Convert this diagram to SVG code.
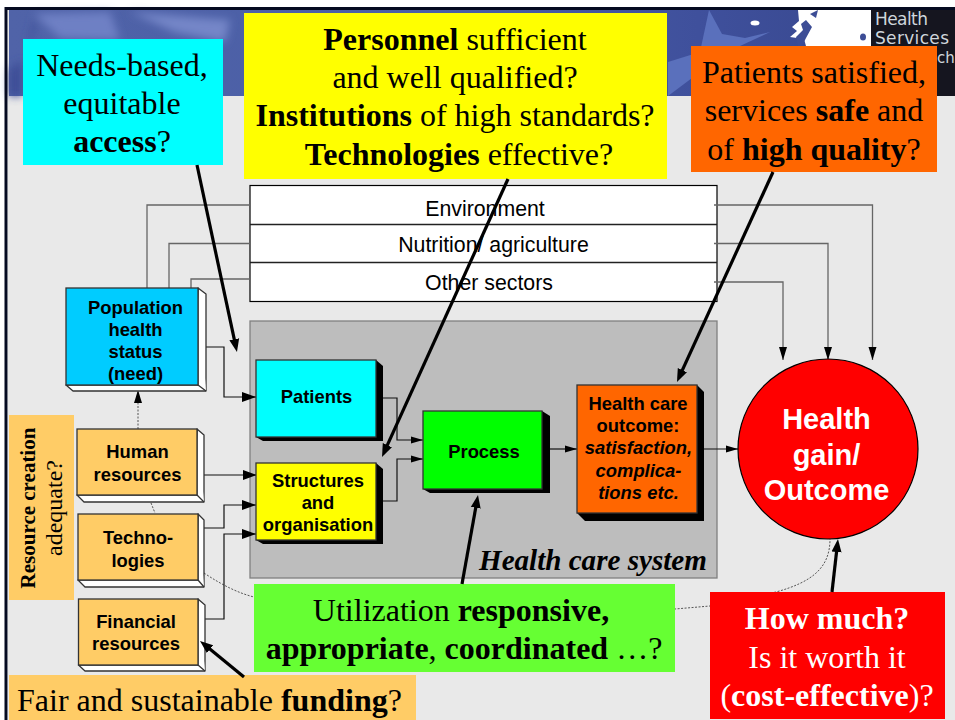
<svg xmlns="http://www.w3.org/2000/svg" width="955" height="720" viewBox="0 0 955 720">
<style>
.s{font-family:"Liberation Serif","Times New Roman",serif;fill:#000;text-anchor:middle}
.a{font-family:"Liberation Sans",Arial,sans-serif;fill:#000;text-anchor:middle}
.lb{font-size:18.4px;font-weight:bold}
.c{font-size:32px}
.n{font-size:21.300px}
.b{font-weight:bold}
.front{stroke:#333;stroke-width:1.3}
.bevel{fill:#fff;stroke:#333;stroke-width:1.3;stroke-linejoin:round}
.shadow{fill:#000}
.flow{fill:none;stroke:#111;stroke-width:1.2}
.dot{fill:none;stroke:#666;stroke-width:1.3}
.curve{fill:none;stroke:#555;stroke-width:1;stroke-dasharray:2 1.500}
.thick{fill:none;stroke:#000;stroke-width:3.2}
</style>
<defs>
<marker id="ah" markerUnits="userSpaceOnUse" markerWidth="15" markerHeight="11" refX="14" refY="5.500" orient="auto"><path d="M0,0.500L14,5.500L0,10.500Z" fill="#000"/></marker>
<marker id="ahd" markerUnits="userSpaceOnUse" markerWidth="14" markerHeight="9" refX="13" refY="4.500" orient="auto"><path d="M0,0.500L13,4.500L0,8.500Z" fill="#000"/></marker>
<marker id="ahs" markerUnits="userSpaceOnUse" markerWidth="14" markerHeight="9" refX="12" refY="4.500" orient="auto"><path d="M0,1L12,4.500L0,8Z" fill="#000"/></marker>
<marker id="ahk" markerUnits="userSpaceOnUse" markerWidth="14" markerHeight="12" refX="5" refY="6" orient="auto"><path d="M0,1L13,6L0,11Z" fill="#000"/></marker>
<linearGradient id="hd" x1="0" y1="0" x2="1" y2="0"><stop offset="0" stop-color="#5063a8"/><stop offset="0.5" stop-color="#4a5ea6"/><stop offset="0.8" stop-color="#3f509c"/><stop offset="1" stop-color="#38488f"/></linearGradient>
<filter id="bl" x="-20%" y="-20%" width="140%" height="140%"><feGaussianBlur stdDeviation="4"/></filter>
<filter id="bl2" x="-20%" y="-20%" width="140%" height="140%"><feGaussianBlur stdDeviation="0.700"/></filter>
</defs>
<rect width="955" height="720" fill="#fff"/>
<g id="slide">
<rect x="8" y="9" width="947" height="711" fill="#e9e9e9"/>
<rect x="9" y="10" width="862" height="86" fill="url(#hd)"/>
<g filter="url(#bl)"><path d="M34,14L110,12L120,40L60,38Z" fill="#6e80c4"/><path d="M130,12L230,20L225,42L175,32Z" fill="#7486c8"/><path d="M9,70L22,60L22,96L9,96Z" fill="#3c4e96"/><path d="M36,20L30,40" stroke="#3c4e96" stroke-width="3"/></g>
<g filter="url(#bl2)"><path d="M709,10L722,34L745,38L770,32L740,46L700,72L668,96L668,62L700,52Z" fill="#5a70bc"/>
<path d="M798,10L871,10V46H806L804,39L790,37L797,31L792,27L799,21Z" fill="#fff"/>
<path d="M796,37L803,30L801,24L806,20L812,27L806,38L802,46L798,46Z" fill="#3c4e96"/><path d="M810,14L818,10L816,18Z" fill="#3c4e96"/><ellipse cx="863" cy="37" rx="3" ry="3.500" fill="#3c4e96"/><ellipse cx="755" cy="23" rx="4.500" ry="2.500" fill="#fff"/></g>
<rect x="871" y="10" width="84" height="86" fill="#15151f"/>
<text x="875" y="25" font-family="'DejaVu Sans',sans-serif" font-size="17" fill="#cfd6dc" textLength="53">Health</text>
<text x="875" y="44" font-family="'DejaVu Sans',sans-serif" font-size="17" fill="#cfd6dc" textLength="74">Services</text>
<text x="937" y="63" font-family="'DejaVu Sans',sans-serif" font-size="15" fill="#cfd6dc">ch</text>
<path d="M6,720V8.500H955" fill="none" stroke="#050a20" stroke-width="3"/>
</g>
<g id="health-care-system">
<rect x="250" y="321" width="467" height="257" fill="#bdbdbd" stroke="#808080" stroke-width="1.3"/>
<text x="479" y="570" font-family="'Liberation Serif',serif" font-size="29.100" font-weight="bold" font-style="italic">Health care system</text>
</g>
<g id="sectors">
<rect x="250" y="185.500" width="467" height="116" fill="#fff" stroke="#000" stroke-width="1.2"/>
<path d="M250,224.500H717M250,262.500H717" stroke="#222" stroke-width="1.3" fill="none"/>
<text class="a n" x="485" y="216">Environment</text>
<text class="a n" x="493.500" y="252">Nutrition/ agriculture</text>
<text class="a n" x="489" y="290">Other sectors</text>
</g>
<g id="connectors">
<path class="dot" d="M250,205H147V288M250,243.500H169V288M250,279H191V288"/>
<path class="dot" d="M714,205H872.500V360" marker-end="url(#ahd)"/>
<path class="dot" d="M714,243.500H828V360" marker-end="url(#ahd)"/>
<path class="dot" d="M714,282H783V360" marker-end="url(#ahd)"/>
<path class="curve" d="M138,429V390" marker-end="url(#ahd)"/>
<path class="curve" d="M151,503L155,513"/>
<path class="curve" d="M204,573C222,585 238,593 254,597L675,609L710,606L776,592C812,582 830,568 830,539"/>
<path class="flow" d="M204,347H224V397H256" marker-end="url(#ah)"/>
<path class="flow" d="M383,398H397V440H423" marker-end="url(#ahs)"/>
<path class="flow" d="M383,501H397V459H423" marker-end="url(#ahs)"/>
<path class="flow" d="M204,475H257" marker-end="url(#ah)"/>
<path class="flow" d="M204,528H224V505H256" marker-end="url(#ah)"/>
<path class="flow" d="M204,619H224V534H256" marker-end="url(#ah)"/>
<path class="flow" d="M550,449H577" marker-end="url(#ahs)"/>
<path class="flow" d="M704,449H738" marker-end="url(#ahs)"/>
</g>
<g id="population">
<path class="bevel" d="M198,288L206,294V391H73L66,385H198Z"/><path class="bevel" d="M198,288V385L206,391"/>
<rect class="front" x="66" y="288" width="132" height="97" fill="#00ccff"/>
<text class="a lb" x="135.500" y="314">Population</text><text class="a lb" x="135.500" y="336">health</text><text class="a lb" x="135.500" y="358">status</text><text class="a lb" x="135.500" y="380">(need)</text>
</g>
<g id="human-resources">
<path class="bevel" d="M197,429L204,435V502H84L77,495H197Z"/><path class="bevel" d="M197,429V495L204,502"/>
<rect class="front" x="77" y="429" width="120" height="66" fill="#ffcc66"/>
<text class="a lb" x="137.500" y="458">Human</text><text class="a lb" x="137.500" y="481">resources</text>
</g>
<g id="technologies">
<path class="bevel" d="M198,514L204,520V587H85L78,580H198Z"/><path class="bevel" d="M198,514V580L204,587"/>
<rect class="front" x="78" y="514" width="120" height="66" fill="#ffcc66"/>
<text class="a lb" x="138" y="544">Techno-</text><text class="a lb" x="138" y="567">logies</text>
</g>
<g id="financial-resources">
<path class="bevel" d="M198,599L205,605V671H85L78.500,665H198Z"/><path class="bevel" d="M198,599V665L205,671"/>
<rect class="front" x="78.500" y="599" width="119.500" height="66" fill="#ffcc66"/>
<text class="a lb" x="136" y="628">Financial</text><text class="a lb" x="136" y="650">resources</text>
</g>
<g id="patients">
<path class="shadow" d="M376,360L383,366V441H263L256,437Z"/>
<rect class="front" x="256" y="360" width="120" height="77" fill="#00ffff"/>
<text class="a lb" x="316.500" y="403">Patients</text>
</g>
<g id="structures">
<path class="shadow" d="M376,463L383,469V544H263L256,540Z"/>
<rect class="front" x="256" y="463" width="120" height="77" fill="#ffff00"/>
<text class="a lb" x="318" y="487">Structures</text><text class="a lb" x="318" y="509">and</text><text class="a lb" x="318" y="531">organisation</text>
</g>
<g id="process">
<path class="shadow" d="M542,411L550,416V493H430L423,489Z"/>
<rect class="front" x="423" y="411" width="119" height="78" fill="#00ff00"/>
<text class="a lb" x="484" y="458">Process</text>
</g>
<g id="health-care-outcome">
<path class="shadow" d="M697,385L704,392V521H585L577,513Z"/>
<rect class="front" x="577" y="385" width="120" height="128" fill="#ff6600"/>
<text class="a lb" x="638" y="410">Health care</text><text class="a lb" x="638" y="432">outcome:</text>
<g font-style="italic"><text class="a lb" x="638.500" y="454">satisfaction,</text><text class="a lb" x="638.500" y="477">complica-</text><text class="a lb" x="638.500" y="499">tions etc.</text></g>
</g>
<g id="health-gain">
<circle cx="828" cy="449" r="90" fill="#ff0000" stroke="#000" stroke-width="1.2"/>
<g fill="#fff" font-family="'Liberation Sans',Arial,sans-serif" font-size="29" font-weight="bold" text-anchor="middle"><text x="826.500" y="429">Health</text><text x="826.500" y="465">gain/</text><text x="826.500" y="500">Outcome</text></g>
</g>
<g id="resource-creation">
<rect x="9" y="415" width="65" height="185" fill="#ffcc66"/>
<text class="s b" transform="translate(35,508) rotate(-90)" font-size="21">Resource creation</text>
<text class="s" transform="translate(62,508) rotate(-90)" font-size="24">adequate?</text>
</g>
<g id="callout-access">
<rect x="23" y="39" width="200" height="126" fill="#00ffff"/>
<text class="s c" x="122" y="75.500">Needs-based,</text><text class="s c" x="122" y="113.500">equitable</text><text class="s c" x="122" y="151.500"><tspan class="b">access</tspan>?</text>
</g>
<g id="callout-personnel">
<rect x="244" y="13" width="423" height="166" fill="#ffff00"/>
<text class="s c" x="455" y="49.500"><tspan class="b">Personnel</tspan> sufficient</text><text class="s c" x="455" y="87.500">and well qualified?</text><text class="s c" x="455" y="125.500"><tspan class="b">Institutions</tspan> of high standards?</text><text class="s c" x="459" y="164.500"><tspan class="b">Technologies</tspan> effective?</text>
</g>
<g id="callout-satisfied">
<rect x="691" y="46" width="246" height="126" fill="#ff6600"/>
<text class="s c" x="814" y="82.500">Patients satisfied,</text><text class="s c" x="814" y="120.500">services <tspan class="b">safe</tspan> and</text><text class="s c" x="814" y="159.500">of <tspan class="b">high quality</tspan>?</text>
</g>
<g id="callout-utilization">
<rect x="254" y="584" width="421" height="88" fill="#66ff33"/>
<text class="s c" x="461" y="620.500">Utilization <tspan class="b">responsive,</tspan></text><text class="s c" x="464" y="658.500"><tspan class="b">appropriate</tspan>, <tspan class="b">coordinated</tspan> …?</text>
</g>
<g id="callout-cost">
<rect x="710" y="592" width="235" height="127" fill="#ff0000"/>
<text class="s c" style="fill:#fff" x="827" y="628.500"><tspan class="b">How much?</tspan></text><text class="s c" style="fill:#fff" x="827" y="667.500">Is it worth it</text><text class="s c" style="fill:#fff" x="827" y="705.500">(<tspan class="b">cost-effective</tspan>)?</text>
</g>
<g id="callout-funding">
<rect x="9" y="675" width="407" height="45" fill="#ffcc66"/>
<text class="s c" x="17" y="711" style="text-anchor:start">Fair and sustainable <tspan class="b">funding</tspan>?</text>
</g>
<g id="callout-connectors">
<path class="thick" d="M197,165L235.300,344.200" marker-end="url(#ahk)"/>
<path class="thick" d="M508,179L385.300,449.700" marker-end="url(#ahk)"/>
<path class="thick" d="M773,172L680.300,374.700" marker-end="url(#ahk)"/>
<path class="thick" d="M462,584L476.600,502.900" marker-end="url(#ahk)"/>
<path class="thick" d="M832,592L837.100,547" marker-end="url(#ahk)"/>
<path class="thick" d="M244,677L206.200,646" marker-end="url(#ahk)"/>
</g>
</svg>
